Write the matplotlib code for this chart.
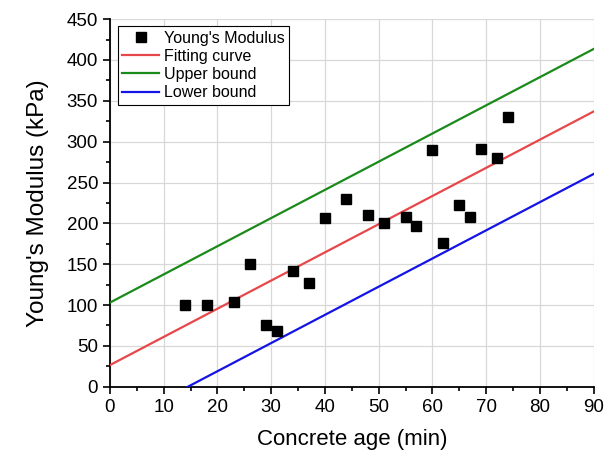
import numpy as np
import matplotlib
matplotlib.use("Agg")
import matplotlib.pyplot as plt
from matplotlib.ticker import MultipleLocator

plt.rcParams['font.family'] = ['Liberation Sans', 'DejaVu Sans']

# Measured Young's modulus vs concrete age
age_min = [14, 18, 23, 26, 29, 31, 34, 37, 40, 44, 48, 51, 55, 57, 60, 62, 65, 67, 69, 72, 74]
modulus_kpa = [100, 100, 104, 150, 76, 68, 142, 127, 207, 230, 210, 200, 208, 197, 290, 176, 222, 208, 291, 280, 330]

# Linear fit and bounds
fit_slope = 3.45
fit_intercept = 26.5
band_halfwidth = 76.5

x_line = np.array([0, 90])
y_fit = fit_slope * x_line + fit_intercept
y_upper = y_fit + band_halfwidth
y_lower = y_fit - band_halfwidth

fig = plt.figure(figsize=(6.04, 4.55), dpi=100)
ax = fig.add_axes([0.182, 0.150, 0.801, 0.808])

ax.plot(age_min, modulus_kpa, 's', color='black', markersize=7, label="Young's Modulus", zorder=4)
ax.plot(x_line, y_fit, color='#e8474a', lw=1.6, label='Fitting curve', zorder=3)
ax.plot(x_line, y_upper, color='#1a8a1a', lw=1.6, label='Upper bound', zorder=3)
ax.plot(x_line, y_lower, color='#1414e6', lw=1.6, label='Lower bound', zorder=3)

ax.set_xlim(0, 90)
ax.set_ylim(0, 450)
ax.xaxis.set_major_locator(MultipleLocator(10))
ax.xaxis.set_minor_locator(MultipleLocator(5))
ax.yaxis.set_major_locator(MultipleLocator(50))
ax.yaxis.set_minor_locator(MultipleLocator(25))
ax.tick_params(which='major', direction='out', length=5, width=1.2, labelsize=13.5)
ax.tick_params(which='minor', direction='out', length=3, width=1.2)
ax.grid(True, which='major', color='#d8d8d8', lw=0.9)
ax.set_axisbelow(True)

for side in ('top', 'right'):
    ax.spines[side].set_visible(False)
for side in ('left', 'bottom'):
    ax.spines[side].set_linewidth(1.3)

ax.set_xlabel('Concrete age (min)', fontsize=16, labelpad=10)
ax.set_ylabel("Young's Modulus (kPa)", fontsize=17.5, labelpad=13)

leg = ax.legend(loc='upper left', bbox_to_anchor=(0.006, 0.995), fontsize=11.5,
                frameon=True, fancybox=False, edgecolor='black', framealpha=1,
                handlelength=2.3, handletextpad=0.3, borderpad=0.3, labelspacing=0.2,
                borderaxespad=0.3)
leg.get_frame().set_linewidth(0.8)

fig.savefig('out.png', dpi=100)
